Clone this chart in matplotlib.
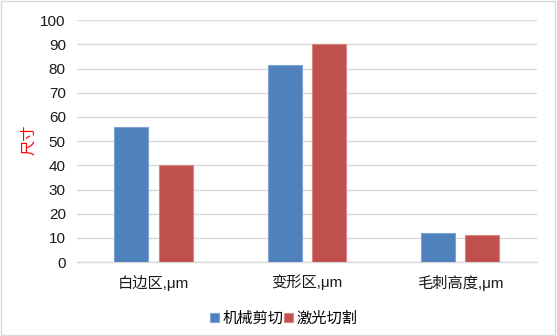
import numpy as np
import matplotlib.pyplot as plt
from matplotlib.patches import Rectangle

plt.rcParams['font.family'] = ['Liberation Sans', 'Noto Sans CJK SC', 'DejaVu Sans']

categories = ["白边区,μm", "变形区,μm", "毛刺高度,μm"]
series_names = ["机械剪切", "激光切割"]
mech_vals = [56, 81.5, 12]
laser_vals = [40, 90, 11]
yticks = list(range(0, 101, 10))

blue = "#4F81BD"
red = "#C0504D"

fig = plt.figure(figsize=(5.57, 3.36), dpi=100)
ax = fig.add_axes([0.138, 0.22, 0.826, 0.72])

x = np.arange(len(categories))
w = 0.222
off = 0.144
ax.bar(x - off, mech_vals, w, color=blue, edgecolor="#7FA3D3", linewidth=0.8, zorder=3,
       label=series_names[0])
ax.bar(x + off, laser_vals, w, color=red, edgecolor="#D98583", linewidth=0.8, zorder=3,
       label=series_names[1])

ax.set_xlim(-0.5, 2.5)
ax.set_ylim(0, 100)
ax.set_yticks(yticks)
ax.set_xticks(x)
ax.set_xticklabels(categories)
ax.yaxis.grid(True, color="#D9D9D9", linewidth=1, zorder=0)
for s in ["top", "right", "left"]:
    ax.spines[s].set_visible(False)
ax.spines["bottom"].set_color("#D9D9D9")
ax.spines["bottom"].set_linewidth(1)
ax.tick_params(axis="both", length=0, labelsize=11, colors="#1a1a1a")
ax.tick_params(axis="x", pad=9)
ax.tick_params(axis="y", pad=8)

fig.text(0.052, 0.585, "尺寸", rotation=90, color="red", fontsize=11, ha="center", va="center")

ax.legend(loc="center", bbox_to_anchor=(0.45, -0.235), ncol=2, frameon=False, fontsize=11,
          handlelength=0.55, handleheight=0.55, handletextpad=0.25, columnspacing=0.05)

fig.patches.append(Rectangle((0.002, 0.003), 0.995, 0.994, transform=fig.transFigure,
                             fill=False, edgecolor="#D9D9D9", linewidth=1))

fig.savefig("out.png", dpi=100, facecolor="white")
